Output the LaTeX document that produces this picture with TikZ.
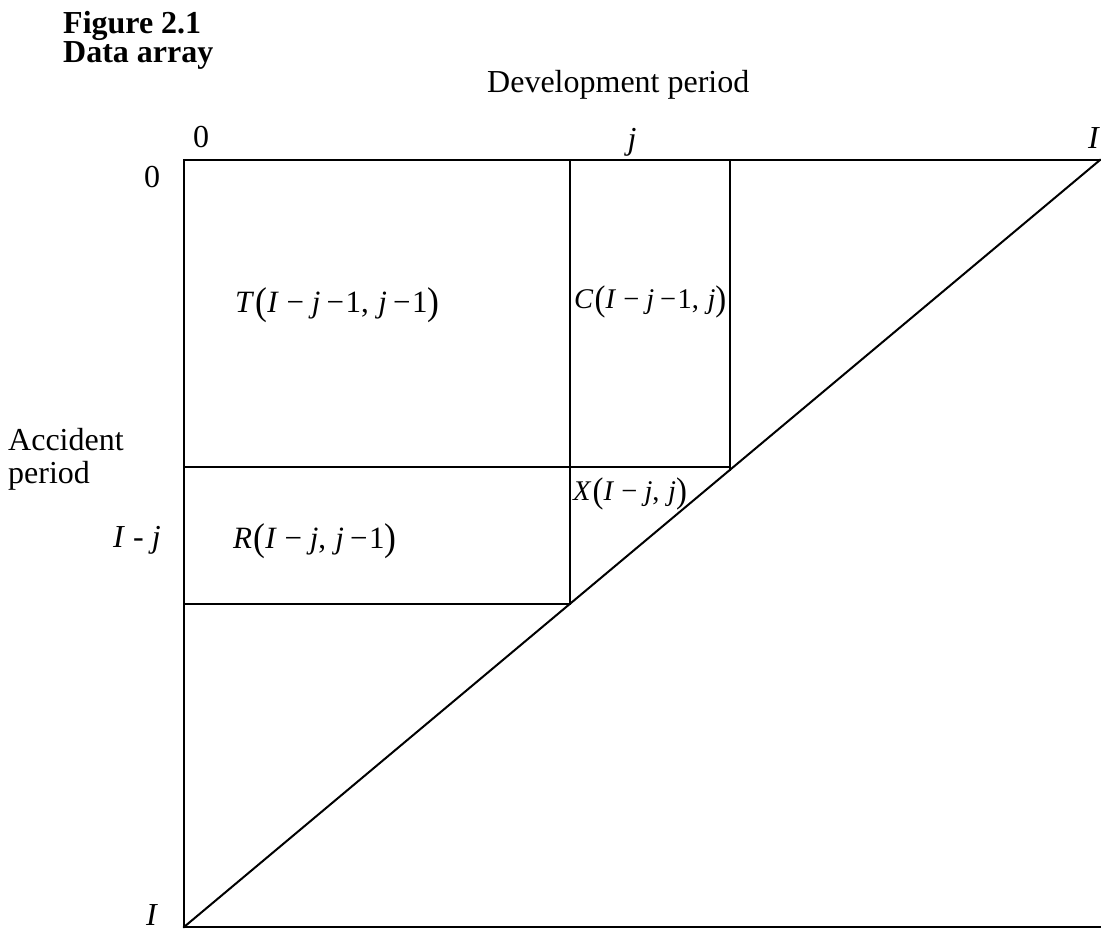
\documentclass[tikz,border=0pt]{standalone}
\usepackage{fontspec}
\setmainfont{Liberation Serif}
\usepackage{graphicx}
\newcommand\lpar{\hspace{0.04em}\raisebox{-0.09em}{\scalebox{1.15}[1.25]{(}}}
\newcommand\rpar{\raisebox{-0.09em}{\scalebox{1.15}[1.25]{)}}}
\newcommand\vi[1]{\textit{#1}}
\newcommand\mnw{\hspace{0.25em}−\hspace{0.25em}}
\newcommand\mnn{\hspace{0.2em}−\hspace{0.05em}}
\newcommand\cma{,\hspace{0.3em}}
\begin{document}
\begin{tikzpicture}[x=1pt,y=-1pt,
  grid/.style={line width=2pt, line cap=rect},
  lbl/.style={inner sep=0pt, font=\fontsize{32}{38}\selectfont},
  cell/.style={inner sep=0pt, font=\fontsize{31}{37}\selectfont},
  small/.style={inner sep=0pt, font=\fontsize{28.5}{34}\selectfont},
  ttl/.style={inner sep=0pt, font=\fontsize{32}{38}\selectfont\bfseries}]
\useasboundingbox (0,0) rectangle (1101,930);
% corners and grid points
\coordinate (TL) at (184,160);
\coordinate (TR) at (1100,160);
\coordinate (BL) at (184,927);
\coordinate (BR) at (1101,927);
\coordinate (Aj) at (570,160);
\coordinate (Bj) at (570,604);
\coordinate (Aj1) at (730,160);
\coordinate (Bj1) at (730,470);
\coordinate (H1l) at (184,467);
\coordinate (H1r) at (730,467);
\coordinate (H2l) at (184,604);
% outline
\draw[grid] (TR) -- (TL) -- (BL) -- (BR);
\draw[grid] (BL) -- (TR);
\draw[grid] (Aj) -- (Bj);
\draw[grid] (Aj1) -- (Bj1);
\draw[grid] (H1l) -- (H1r);
\draw[grid] (H2l) -- (Bj);
% title
\node[ttl, anchor=base west] (fig) at (63,33) {Figure 2.1};
\node[ttl, anchor=base west] (dat) at (63,62) {Data array};
% axis titles
\node[lbl, anchor=base west] (dev) at (487,92) {Development period};
\node[lbl, anchor=base west] (acc) at (8,450) {Accident};
\node[lbl, anchor=base west] (per) at (8,483) {period};
% ticks
\node[lbl, anchor=base] (c0) at (201,147) {0};
\node[lbl, anchor=base] (cj) at (632,149) {\vi{j}};
\node[lbl, anchor=base] (cI) at (1094,148) {\vi{I}};
\node[lbl, anchor=base] (r0) at (152,187) {0};
\node[lbl, anchor=base west] (rIj) at (113,547) {\vi{I} - \vi{j}};
\node[lbl, anchor=base] (rI) at (152,925) {\vi{I}};
% cell labels
\node[cell, anchor=base west] (T) at (235,312) {\vi{T}\lpar\vi{I}\mnw\vi{j}\mnn 1\cma\vi{j}\mnn 1\rpar};
\node[small, anchor=base west] (C) at (574,308) {\vi{C}\lpar\vi{I}\mnw\vi{j}\mnn 1\cma\vi{j}\rpar};
\node[small, anchor=base west] (X) at (573,500) {\vi{X}\lpar\vi{I}\mnw\vi{j}\cma\vi{j}\rpar};
\node[cell, anchor=base west] (R) at (233,548) {\vi{R}\lpar\vi{I}\mnw\vi{j}\cma\vi{j}\mnn 1\rpar};
\end{tikzpicture}
\end{document}
